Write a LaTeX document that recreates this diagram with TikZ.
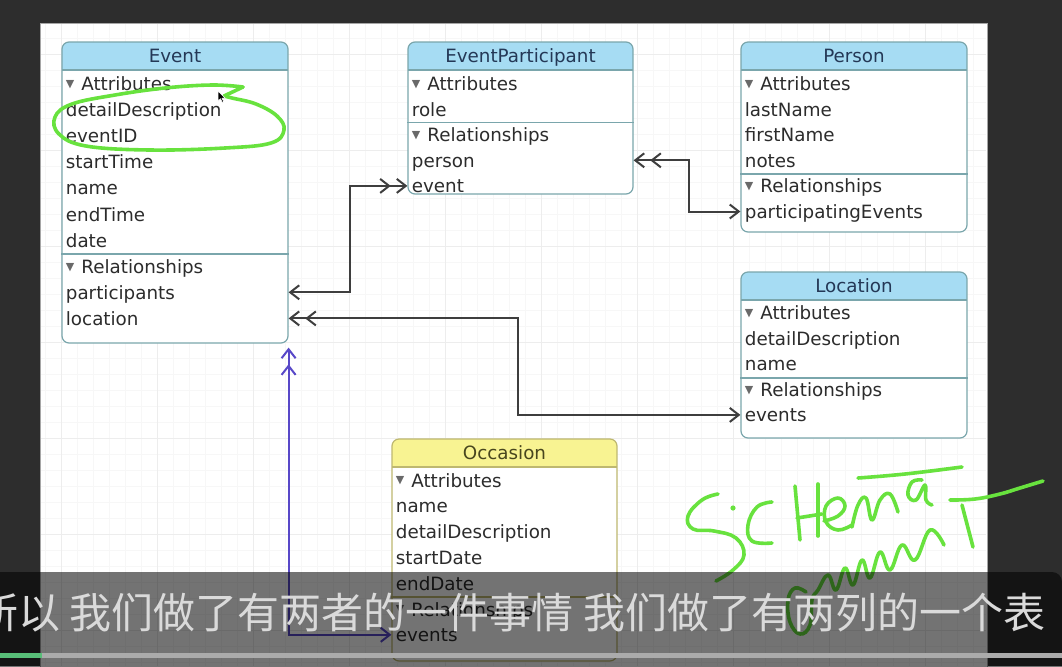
\documentclass[tikz,border=0pt]{standalone}
\usepackage{fontspec}
\setmainfont{DejaVu Sans}
\newfontfamily\cjk{Noto Sans CJK SC}
\definecolor{ScreenDark} {RGB}{45,45,45}
\definecolor{BoxLine}    {RGB}{122,166,172}
\definecolor{HdrBlue}    {RGB}{166,220,243}
\definecolor{HdrText}    {RGB}{36,56,86}
\definecolor{OccLine}    {RGB}{190,184,112}
\definecolor{HdrYellow}  {RGB}{248,243,146}
\definecolor{OccText}    {RGB}{72,70,30}
\definecolor{RowText}    {RGB}{44,44,44}
\definecolor{TriGray}    {RGB}{105,105,105}
\definecolor{RelGray}    {RGB}{62,62,62}
\definecolor{InhPurple}  {RGB}{88,72,200}
\definecolor{InkGreen}   {RGB}{104,226,62}
\definecolor{ProgGreen}  {RGB}{88,190,120}
\definecolor{SubText}    {RGB}{218,218,218}
\usetikzlibrary{arrows.meta,fit}
\newcommand{\tri}{\raisebox{1.6pt}{\fontsize{5.5pt}{5.5pt}\selectfont\color{TriGray}▼}\hspace{3.5pt}}

\begin{document}
\begin{tikzpicture}[x=0.5pt,y=-0.5pt,
  font=\fontsize{9.15pt}{11pt}\selectfont,
  barb/.tip={Straight Barb[length=4.5pt,width=7pt]},
  barbs/.tip={Straight Barb[length=4.5pt,width=7pt,sep=2.5pt]Straight Barb[length=4.5pt,width=7pt]},
  entity/.style n args={2}{draw=#2,fill=white,line width=0.6pt,rounded corners=3.5pt,inner sep=0pt,
    path picture={\fill[#1,sharp corners] (path picture bounding box.north west)
        rectangle ([yshift=-14pt]path picture bounding box.north east);
      \draw[#2,line width=0.6pt,sharp corners] ([yshift=-14pt]path picture bounding box.north west)
        -- ([yshift=-14pt]path picture bounding box.north east);}},
  hdr/.style={inner sep=0pt,text=HdrText,text height=6.7pt,text depth=0pt},
  row/.style={anchor=base west,inner sep=0pt,text=RowText,text height=8pt,text depth=1pt},
  rel/.style={draw=RelGray,line width=1pt},
  inh/.style={draw=InhPurple,line width=1pt},
  ink/.style={draw=InkGreen,line width=1.8pt,line cap=round,line join=round},
  gridminor/.style={draw=black!3,line width=0.4pt},
  gridmajor/.style={draw=black!7,line width=0.4pt},
  subtitle/.style={anchor=base west,inner sep=0pt,text=SubText,
    font=\cjk\fontsize{21pt}{21pt}\selectfont}]
  \useasboundingbox (0,0) rectangle (1062,666);
  \fill[ScreenDark] (0,0) rectangle (1062,666);
  \draw[black!35,fill=white] (40,23) rectangle (987,690);
  \foreach \gx in {45,61,...,981} \draw[gridminor] (\gx,24) -- (\gx,666);
  \foreach \gy in {38,54,...,662} \draw[gridminor] (41,\gy) -- (986,\gy);
  \foreach \gx in {61,157,...,925} \draw[gridmajor] (\gx,24) -- (\gx,666);
  \foreach \gy in {54,150,...,630} \draw[gridmajor] (41,\gy) -- (986,\gy);

  \node[entity={HdrBlue}{BoxLine},fit={(62,42) (288,343)}] (ev) {};
  \node[hdr] (ev-t) at ([yshift=-7pt]ev.north) {Event};
  \foreach \t [count=\i from 0] in {{\tri Attributes},detailDescription,eventID,startTime,name,
      endTime,date,{\tri Relationships},participants,location}
    \node[row] (ev-r\i) at (65.5,{90.5+26.1*\i}) {\t};
  \draw[BoxLine,line width=0.6pt] (ev.west |- 0,254) -- (ev.east |- 0,254);

  \node[entity={HdrBlue}{BoxLine},fit={(408,42) (633,194)}] (ep) {};
  \node[hdr] (ep-t) at ([yshift=-7pt]ep.north) {EventParticipant};
  \foreach \t [count=\i from 0] in {{\tri Attributes},role,{\tri Relationships},person,event}
    \node[row] (ep-r\i) at (411.5,{90.5+25.6*\i}) {\t};
  \draw[BoxLine,line width=0.6pt] (ep.west |- 0,122.5) -- (ep.east |- 0,122.5);

  \node[entity={HdrBlue}{BoxLine},fit={(741,42) (967,232)}] (ps) {};
  \node[hdr] (ps-t) at ([yshift=-7pt]ps.north) {Person};
  \foreach \t [count=\i from 0] in {{\tri Attributes},lastName,firstName,notes,
      {\tri Relationships},participatingEvents}
    \node[row] (ps-r\i) at (744.5,{90.5+25.6*\i}) {\t};
  \draw[BoxLine,line width=0.6pt] (ps.west |- 0,174) -- (ps.east |- 0,174);

  \node[entity={HdrBlue}{BoxLine},fit={(741,272) (967,438)}] (lc) {};
  \node[hdr] (lc-t) at ([yshift=-7pt]lc.north) {Location};
  \foreach \t [count=\i from 0] in {{\tri Attributes},detailDescription,name,
      {\tri Relationships},events}
    \node[row] (lc-r\i) at (744.5,{319.5+25.6*\i}) {\t};
  \draw[BoxLine,line width=0.6pt] (lc.west |- 0,378) -- (lc.east |- 0,378);

  \node[entity={HdrYellow}{OccLine},fit={(392,439) (617,661)}] (oc) {};
  \node[hdr,text=OccText] (oc-t) at ([yshift=-7pt]oc.north) {Occasion};
  \foreach \t [count=\i from 0] in {{\tri Attributes},name,detailDescription,startDate,endDate,
      {\tri Relationships},events}
    \node[row] (oc-r\i) at (395.5,{487+25.8*\i}) {\t};
  \draw[OccLine,line width=0.6pt] (oc.west |- 0,597) -- (oc.east |- 0,597);

  \draw[rel,barb-barbs] (ev-r8 -| ev.east) -- ++(61,0) |- (ep-r4 -| ep.west);
  \draw[rel,barbs-barb] (ep-r3 -| ep.east) -- ++(55,0) |- (ps-r5 -| ps.west);
  \draw[rel,barbs-barb] (ev-r9 -| ev.east) -- ++(229,0) |- (lc-r4 -| lc.west);
  \draw[inh,barbs-barb] ([yshift=-2pt]ev.south east) |- (oc-r6 -| oc.west);

  \draw[ink] plot[smooth,tension=0.65] coordinates {(243,87) (212,85) (165,88) (115,95) (72,104)
    (55,117) (59,134) (86,146) (150,150) (225,148) (271,143) (284,130) (277,116) (256,104)
    (232,98) (224,96)};
  \draw[ink] (224,96) -- (243,87);
  \fill[black,draw=white,line width=0.3pt] (218,91) -- (218,101) -- (220.5,98.8) -- (222.3,102.5)
    -- (223.8,101.8) -- (222,98.2) -- (225,98) -- cycle;

  \draw[ink] plot[smooth,tension=0.7] coordinates {(718,494) (702,500) (688,516) (693,529)
    (714,531) (736,538) (744,555) (733,570) (716,581)};
  \fill[InkGreen] (733,508) circle (1.3pt);
  \draw[ink] plot[smooth,tension=0.7] coordinates {(772,502) (757,507) (748,525) (752,541) (772,543)};
  \draw[ink] (795,486) -- (800,540);
  \draw[ink] (818,484) -- (818,536);
  \draw[ink] (797,518) -- (822,514);
  \draw[ink] plot[smooth,tension=0.7] coordinates {(824,521) (838,516) (845,506) (838,498)
    (826,506) (826,522) (838,530) (852,525)};
  \draw[ink] plot[smooth,tension=0.7] coordinates {(852,527) (858,505) (866,498) (872,520)
    (880,500) (890,494) (898,512)};
  \draw[ink] plot[smooth,tension=0.7] coordinates {(922,480) (912,482) (908,495) (916,500)
    (925,485) (926,500) (932,505)};
  \draw[ink] plot[smooth,tension=0.7] coordinates {(858,478) (905,474) (962,467)};
  \draw[ink] plot[smooth,tension=0.7] coordinates {(950,500) (975,499) (1000,494) (1020,488) (1043,481)};
  \draw[ink] (962,505) -- (973,547);
  \draw[ink] plot[smooth,tension=0.7] coordinates {(806,592) (795,588) (788,600) (790,622)
    (800,634) (810,625) (812,600) (818,590) (828,575) (836,590) (845,568) (853,585) (862,560)
    (870,578) (880,552) (890,570) (902,545) (915,560) (930,530) (944,545)};

  \fill[black,fill opacity=0.55,rounded corners=5pt] (-10,572) rectangle (1062,700);
  \fill[black!33] (0,653) rectangle (1062,658);
  \fill[ProgGreen] (0,653) rectangle (42,658);
  \node[subtitle] (sub) at (-24,628) {所以 我们做了有两者的一件事情 我们做了有两列的一个表};
\end{tikzpicture}
\end{document}
